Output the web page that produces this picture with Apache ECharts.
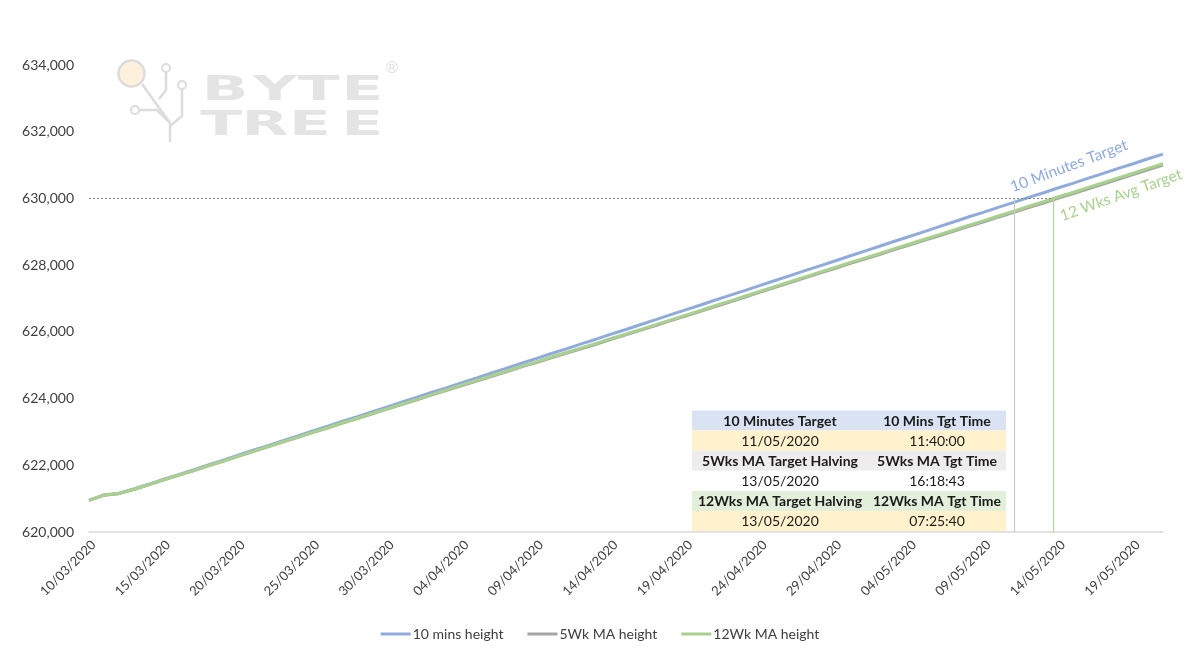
<!DOCTYPE html>
<html>
<head>
<meta charset="utf-8">
<script src="https://cdn.jsdelivr.net/npm/echarts/dist/echarts.min.js"></script>
<style>
html,body{margin:0;padding:0;background:#fff;}
#chart{width:1200px;height:658px;}
</style>
</head>
<body>
<div id="chart"></div>
<script>
// ---- data (x = days since 10/03/2020) ----
const xTickLabels = ['10/03/2020','15/03/2020','20/03/2020','25/03/2020','30/03/2020','04/04/2020','09/04/2020','14/04/2020','19/04/2020','24/04/2020','29/04/2020','04/05/2020','09/05/2020','14/05/2020','19/05/2020'];
const seriesNames = ['10 mins height','5Wk MA height','12Wk MA height'];
const tenMinsHeight = [620950,621110,621160,621290,621430,621580,621720,621860,622010,622150,622300,622450,622590,622740,622880,623030,623170,623320,623460,623610,623750,623900,624040,624190,624330,624480,624620,624770,624910,625060,625200,625350,625490,625640,625780,625930,626070,626220,626365,626515,626660,626805,626955,627100,627245,627395,627540,627685,627835,627980,628125,628275,628420,628565,628715,628860,629005,629155,629300,629450,629590,629740,629880,630030,630170,630320,630460,630610,630750,630900,631040,631190,631330];
const fiveWkMaHeight = [620950,621105,621150,621275,621415,621560,621700,621835,621985,622120,622265,622410,622550,622695,622835,622980,623115,623265,623400,623545,623685,623825,623960,624110,624250,624390,624525,624670,624805,624950,625080,625225,625360,625495,625630,625775,625910,626050,626190,626335,626475,626615,626760,626900,627045,627190,627335,627475,627620,627760,627900,628045,628180,628320,628465,628605,628745,628880,629020,629165,629300,629445,629580,629725,629860,630010,630145,630290,630430,630575,630715,630860,631000];
const twelveWkMaHeight = [620950,621110,621155,621280,621420,621565,621705,621840,621990,622125,622275,622420,622560,622705,622845,622990,623125,623275,623410,623555,623695,623840,623975,624125,624265,624410,624545,624690,624825,624970,625100,625245,625380,625520,625655,625800,625935,626075,626215,626360,626500,626640,626790,626930,627075,627220,627365,627505,627650,627790,627930,628075,628210,628350,628495,628635,628775,628915,629055,629200,629335,629480,629620,629765,629900,630050,630185,630330,630470,630615,630755,630900,631040];
const targetHeight = 630000;
const tenMinTargetDay = 62.0;     // vertical marker (as drawn)
const twelveWkTargetDay = 64.65;  // vertical marker (as drawn)
const tableText = [
  ['10 Minutes Target','10 Mins Tgt Time'],
  ['11/05/2020','11:40:00'],
  ['5Wks MA Target Halving','5Wks MA Tgt Time'],
  ['13/05/2020','16:18:43'],
  ['12Wks MA Target Halving','12Wks MA Tgt Time'],
  ['13/05/2020','07:25:40']
];
const tableBold = [true,false,true,false,true,false];
const tableFill = ['#dae3f3','#fff2cc','#ededed','#ffffff','#e2efda','#fff2cc'];

const colors = ['#8faadc','#a5a5a5','#a9d18e'];
const toXY = arr => arr.map((v,i)=>[i,v]);

// ---- graphics ----
const graphics = [];
// table
const tX = 692, tY = 410.5, rowH = 20.1, c1W = 174, c2W = 140;
tableText.forEach((row, r) => {
  const y = tY + r*rowH;
  graphics.push({type:'rect', shape:{x:tX, y:y, width:c1W+c2W, height:rowH}, style:{fill:tableFill[r]}, silent:true, z:5});
  graphics.push({type:'text', x:tX + c1W/2 + 1, y:y + rowH/2 + 0.5, style:{text:row[0], align:'center', verticalAlign:'middle', fill:'#1a1a1a', font:(tableBold[r]?'bold ':'')+'14px Lato'}, silent:true, z:6});
  graphics.push({type:'text', x:tX + c1W + c2W/2 + 1, y:y + rowH/2 + 0.5, style:{text:row[1], align:'center', verticalAlign:'middle', fill:'#1a1a1a', font:(tableBold[r]?'bold ':'')+'14px Lato'}, silent:true, z:6});
});
// target annotations
graphics.push({type:'text', x:1069, y:166, rotation:20.5*Math.PI/180, style:{text:'10 Minutes Target', align:'center', verticalAlign:'middle', fill:'#8faadc', font:'15.5px Lato'}, silent:true, z:6});
graphics.push({type:'text', x:1121, y:195, rotation:19.5*Math.PI/180, style:{text:'12 Wks Avg Target', align:'center', verticalAlign:'middle', fill:'#a9d18e', font:'15.5px Lato'}, silent:true, z:6});
// watermark logo
const lg = '#dcdcdc';
graphics.push({type:'line', shape:{x1:142,y1:84,x2:170,y2:123}, style:{stroke:lg, lineWidth:2.5}, silent:true, z:1});
graphics.push({type:'line', shape:{x1:170,y1:123,x2:170,y2:142}, style:{stroke:lg, lineWidth:2.5}, silent:true, z:1});
graphics.push({type:'polyline', shape:{points:[[166,72],[166,90],[159,99]]}, style:{stroke:lg, lineWidth:2.5, fill:null}, silent:true, z:1});
graphics.push({type:'polyline', shape:{points:[[182,89],[182,116],[170,126]]}, style:{stroke:lg, lineWidth:2.5, fill:null}, silent:true, z:1});
graphics.push({type:'polyline', shape:{points:[[139,110],[157,110],[168,121]]}, style:{stroke:lg, lineWidth:2.5, fill:null}, silent:true, z:1});
graphics.push({type:'circle', shape:{cx:131.5,cy:73.5,r:13}, style:{fill:'#fdf1dd', stroke:lg, lineWidth:2.5}, silent:true, z:2});
graphics.push({type:'circle', shape:{cx:166,cy:68,r:4}, style:{fill:'#fff', stroke:lg, lineWidth:2}, silent:true, z:2});
graphics.push({type:'circle', shape:{cx:182,cy:85,r:4}, style:{fill:'#fff', stroke:lg, lineWidth:2}, silent:true, z:2});
graphics.push({type:'circle', shape:{cx:135,cy:110,r:4}, style:{fill:'#fff', stroke:lg, lineWidth:2}, silent:true, z:2});
const logoLetters = [['B',225,91],['Y',275,91],['T',318.5,91],['E',362.5,91],['T',221,126],['R',265,126],['E',310,126],['E',362.5,126]];
logoLetters.forEach(l => {
  graphics.push({type:'text', x:l[1], y:l[2], scaleX:1.8, style:{text:l[0], align:'center', verticalAlign:'middle', fill:'#e4e4e4', font:'bold 34px "DejaVu Sans"'}, silent:true, z:1});
});
graphics.push({type:'text', x:392, y:69, style:{text:'®', align:'center', verticalAlign:'middle', fill:'#e0e0e0', font:'16px "DejaVu Sans"'}, silent:true, z:1});

const dashStyle = {color:'#808080', width:1, type:[2,2]};
const greyStyle = {color:'#c8c8c8', width:1.2, type:'solid'};
const greenStyle = {color:'#b0d797', width:1.2, type:'solid'};

const chart = echarts.init(document.getElementById('chart'));
chart.setOption({
  animation:false,
  backgroundColor:'#fff',
  textStyle:{fontFamily:'Lato'},
  color:colors,
  grid:{left:89, right:37, top:65, bottom:126, containLabel:false},
  legend:{
    bottom:12, left:'center', itemWidth:30, itemHeight:3, itemGap:24, icon:'rect',
    textStyle:{color:'#404040', fontSize:14, fontFamily:'Lato', padding:[0,0,0,-3]},
    data:seriesNames
  },
  xAxis:{
    type:'value', min:0, max:72, interval:5,
    axisLine:{show:true, lineStyle:{color:'#d9d9d9', width:1.5}},
    axisTick:{show:false}, splitLine:{show:false},
    axisLabel:{rotate:45, color:'#404040', fontSize:13, margin:6, verticalAlign:'top', showMaxLabel:false,
      formatter:v => xTickLabels[Math.round(v/5)] || ''}
  },
  yAxis:{
    type:'value', min:620000, max:634000, interval:2000,
    axisLine:{show:false}, axisTick:{show:false}, splitLine:{show:false},
    axisLabel:{color:'#404040', fontSize:14, margin:15, formatter:v => v.toLocaleString('en-US')}
  },
  series:[
    {name:seriesNames[0], type:'line', data:toXY(tenMinsHeight), showSymbol:false, symbol:'none', lineStyle:{width:3, color:colors[0]}, z:3},
    {name:seriesNames[1], type:'line', data:toXY(fiveWkMaHeight), showSymbol:false, symbol:'none', lineStyle:{width:3, color:colors[1]}, z:3},
    {name:seriesNames[2], type:'line', data:toXY(twelveWkMaHeight), showSymbol:false, symbol:'none', lineStyle:{width:3, color:colors[2]}, z:3,
      markLine:{silent:true, symbol:'none', label:{show:false}, animation:false,
        data:[
          [{coord:[0,targetHeight], lineStyle:dashStyle},{coord:[twelveWkTargetDay,targetHeight], lineStyle:dashStyle}],
          [{coord:[tenMinTargetDay,targetHeight], lineStyle:greyStyle},{coord:[tenMinTargetDay,620000], lineStyle:greyStyle}],
          [{coord:[twelveWkTargetDay,targetHeight], lineStyle:greenStyle},{coord:[twelveWkTargetDay,620000], lineStyle:greenStyle}]
        ]}
    }
  ],
  graphic:graphics
});
</script>
</body>
</html>
